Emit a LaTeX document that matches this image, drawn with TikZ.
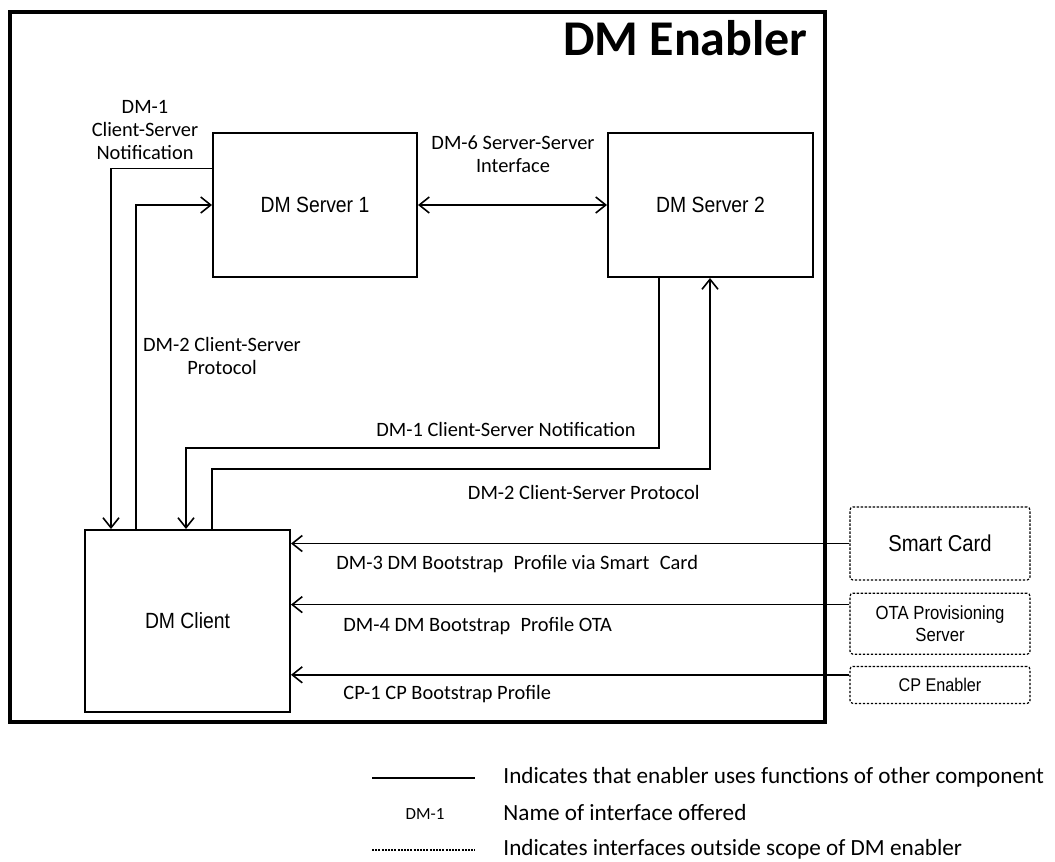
\documentclass[tikz,border=0pt]{standalone}
\usepackage{fontspec}
\setmainfont{Carlito}
\newfontfamily\boxfont[FakeStretch=0.88]{Liberation Sans}
\usepackage{tikz}
\usetikzlibrary{arrows.meta,positioning,calc}

\tikzset{
	blk/.style = {draw, line width=1pt, inner sep=0pt, align=center,
		font=\boxfont\fontsize{11}{13}\selectfont},
	extbox/.style = {draw, line width=0.6pt, dash pattern=on 1.2pt off 0.8pt,
		rounded corners=1.5pt, inner sep=0pt, minimum width=90pt, align=center},
	conn/.style = {line width=0.8pt, -{Straight Barb[length=5pt,width=8pt]}},
	lbl/.style = {font=\fontsize{10.2}{11.6}\selectfont, align=center, inner sep=0pt},
	legtext/.style = {font=\fontsize{11.6}{13}\selectfont, anchor=west, inner sep=0pt}
}

\begin{document}
\begin{tikzpicture}[x=0.5pt, y=-0.5pt]
	\useasboundingbox (0,0) rectangle (1055,862);
	
	% enabler frame and title
	\draw [line width=2pt] (10,12) rectangle (825,722);
	\node [anchor=east, inner sep=0pt, font=\bfseries\fontsize{25}{28}\selectfont] (title) at (808,38) {DM Enabler};
	
	% blocks
	\node [blk, minimum width=102pt, minimum height=72pt] (srv1) at (315,205) {DM Server 1};
	\node [blk, minimum width=102.5pt, minimum height=72pt] (srv2) at (710.5,205) {DM Server 2};
	\node [blk, minimum width=102.5pt, minimum height=91pt] (client) at (187.5,621) {DM Client};
	
	% outside the enabler
	\node [extbox, minimum height=36.5pt, font=\boxfont\fontsize{11.5}{13}\selectfont] (card) at (940,543.5) {Smart Card};
	\node [extbox, minimum height=30.5pt, font=\boxfont\fontsize{9.5}{11}\selectfont, below=6pt of card] (ota) {OTA Provisioning\\Server};
	\node [extbox, minimum height=18.5pt, font=\boxfont\fontsize{9.2}{11}\selectfont, below=5.5pt of ota] (cpen) {CP Enabler};
	\coordinate (otaout) at ($(ota.north west)+(0,12)$);
	\coordinate (cpout) at ($(cpen.north west)+(0,9)$);
	
	% interfaces
	\draw [conn] ($(srv1.north west)!0.25!(srv1.south west)$) -| ($(client.north west)+(27,0)$);
	\draw [conn] ($(client.north west)+(52,0)$) |- (srv1.west);
	\draw [conn, {Straight Barb[length=5pt,width=8pt]}-{Straight Barb[length=5pt,width=8pt]}] (srv1) -- (srv2);
	\draw [conn] ($(srv2.south west)+(52,0)$) -- ++(0,170) -| ($(client.north west)+(102,0)$);
	\draw [conn] ($(client.north west)+(128,0)$) -- ++(0,-60) -| ($(srv2.south west)+(103,0)$);
	
	\draw [conn] (card.west) -- (card.west -| client.east);
	\draw [conn] (otaout) -- (otaout -| client.east);
	\draw [conn] (cpout) -- (cpout -| client.east);
	
	% interface names
	\node [lbl] (l1a) at (145,130) {DM-1\\Client-Server\\Notification};
	\node [lbl] (l2a) at (222,356) {DM-2 Client-Server\\Protocol};
	\node [lbl] (l6) at (513,154) {DM-6 Server-Server\\Interface};
	\node [lbl, anchor=east] (l1b) at (636,429) {DM-1 Client-Server Notification};
	\node [lbl, anchor=east] (l2b) at (700,492) {DM-2 Client-Server Protocol};
	\node [lbl, anchor=west] (l3) at (336,564) {DM-3 DM Bootstrap\enspace Profile via Smart\enspace Card};
	\node [lbl, anchor=west] (l4) at (343,626) {DM-4 DM Bootstrap\enspace Profile OTA};
	\node [lbl, anchor=west] (lcp) at (343,694) {CP-1 CP Bootstrap Profile};
	
	% legend
	\draw [line width=1pt] (372,778) -- (475,778);
	\node [legtext] (leg1) at (503,777) {Indicates that enabler uses functions of other component};
	\node [inner sep=0pt, font=\fontsize{8.5}{10}\selectfont] (legdm) at (425,814) {DM-1};
	\node [legtext] (leg2) at (503,813) {Name of interface offered};
	\draw [line width=0.6pt, dash pattern=on 1pt off 0.6pt] (372,850) -- (475,850);
	\node [legtext] (leg3) at (503,849) {Indicates interfaces outside scope of DM enabler};
\end{tikzpicture}
\end{document}
